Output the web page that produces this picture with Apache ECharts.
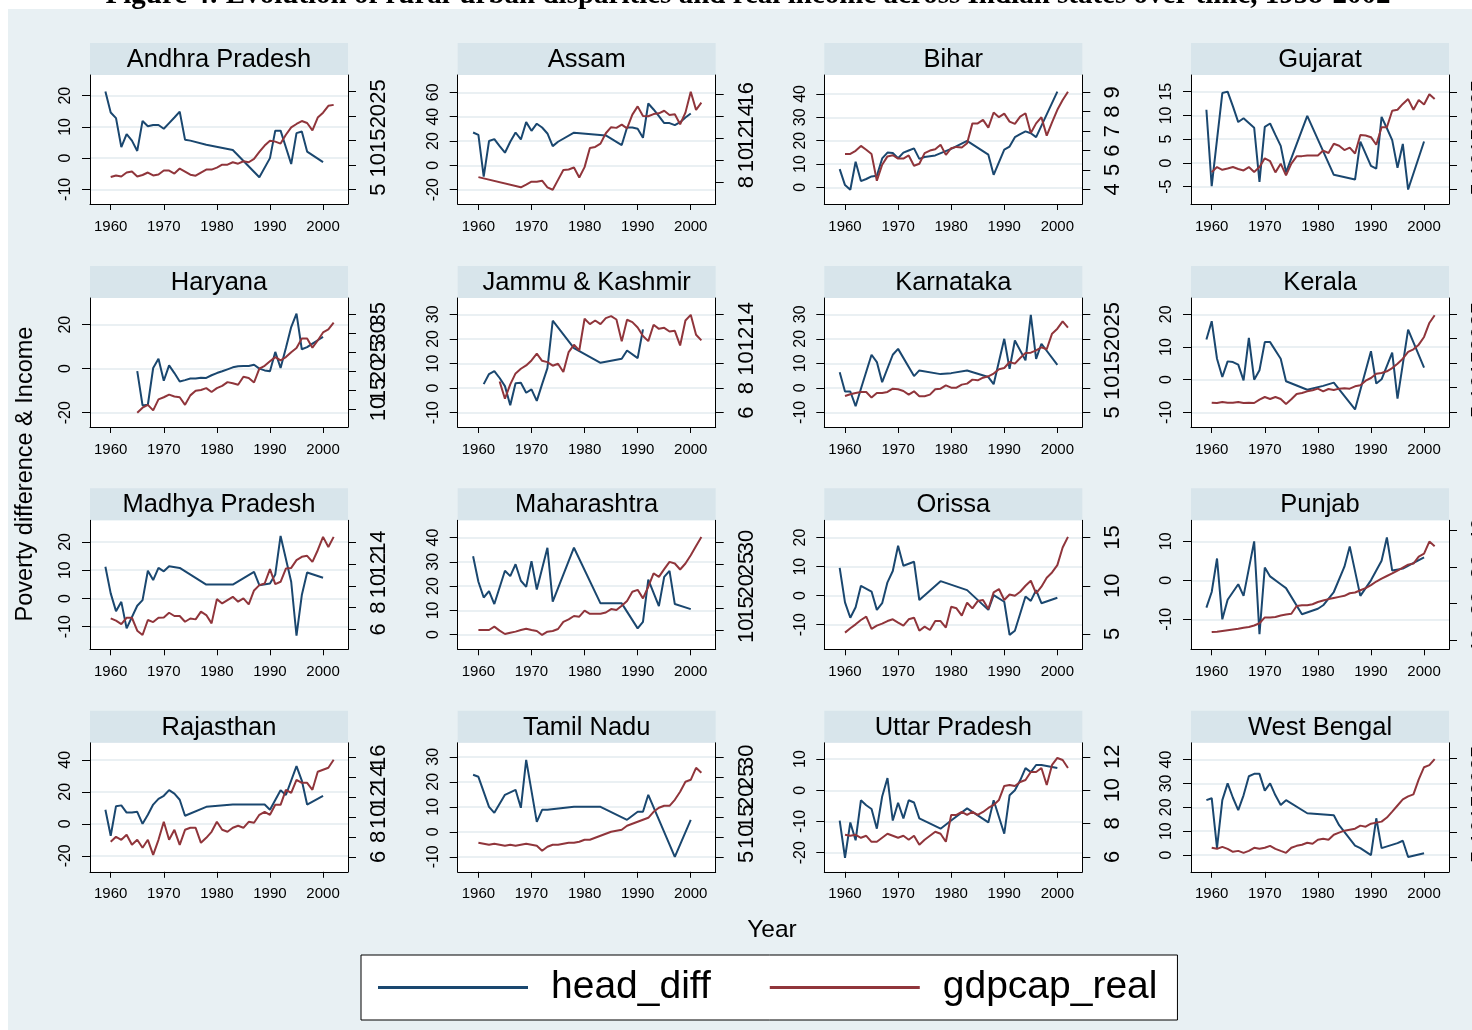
<!DOCTYPE html>
<html>
<head>
<meta charset="utf-8">
<script src="https://cdn.jsdelivr.net/npm/echarts@6/dist/echarts.min.js"></script>
<style>
  html, body { margin: 0; padding: 0; background: #fff; }
  #chart { width: 1472px; height: 1030px; }
</style>
</head>
<body>
<div id="chart"></div>
<script>
// Years covered by every series (1959-2002); null = no observation that year.
const years = [1959,
  1960,1961,1962,1963,1964,1965,1966,1967,1968,1969,
  1970,1971,1972,1973,1974,1975,1976,1977,1978,1979,
  1980,1981,1982,1983,1984,1985,1986,1987,1988,1989,
  1990,1991,1992,1993,1994,1995,1996,1997,1998,1999,
  2000,2001,2002];
const yearTicks = [1960, 1970, 1980, 1990, 2000];

// ---- Andhra Pradesh
const apHead = [21.3,
  14.6,12.8,3.5,7.7,5.6,2.3,11.9,10.2,10.6,10.6,
  9.4,11.2,13.0,14.9,5.9,5.6,null,null,4.3,null,
  null,null,null,2.6,null,null,null,null,-6.1,null,
  0.0,8.8,8.8,null,-1.9,8.0,8.5,2.1,null,null,
  -1.3,null,null];
const apGdp = [null,
  7.58,7.9,7.7,8.5,8.7,7.7,8.0,8.5,7.9,8.1,
  8.9,8.9,8.3,9.3,8.7,8.05,7.85,8.5,9.1,9.1,
  9.5,10.1,10.1,10.6,10.3,10.8,10.6,11.3,12.7,14.0,
  15.0,14.8,14.4,16.2,17.7,18.4,19.0,18.6,17.1,19.7,
  20.7,22.1,22.3];
const apLeftTicks = [-10, 0, 10, 20];
const apRightTicks = [5, 10, 15, 20, 25];

// ---- Assam
const asHead = [27,
  25.1,-9.3,20,21.6,15.8,10.4,19.4,27,21.3,35.5,
  28.4,34.2,31.1,26.2,15.8,19.4,null,null,26.8,null,
  null,null,null,null,24.6,null,null,16.7,31.1,31.1,
  30,22.7,50.8,45.9,40.4,34.7,34.7,33,35.5,39.3,
  42.6,null,null];
const asGdp = [null,
  8.45,null,null,null,null,null,null,null,7.52,7.76,
  8.03,8.03,8.12,7.52,7.3,8.2,9.1,9.15,9.33,8.42,
  9.36,11.1,11.2,11.5,12.45,13.0,12.94,13.24,12.9,14.15,
  14.9,14.03,14.0,14.2,14.27,14.5,14.12,14.18,13.27,14.33,
  16.24,14.58,15.24];
const asLeftTicks = [-20, 0, 20, 40, 60];
const asRightTicks = [8, 10, 12, 14, 16];

// ---- Bihar
const biHead = [7.8,
  1.0,-1.0,11,2.7,3.6,4.7,5.0,12.4,14.9,14.7,
  12.5,14.9,15.8,16.7,12.2,13,null,13.7,null,null,
  16.5,null,null,19.9,null,null,null,14,5.4,null,
  16.2,17.5,21.5,22.8,24,23.2,21.5,null,null,null,
  41,null,null];
const biGdp = [null,
  5.83,5.83,5.99,6.24,6.04,5.82,4.45,5.27,5.7,5.76,
  5.59,5.59,5.75,5.22,5.32,5.87,6.0,6.07,6.3,5.78,
  6.12,6.19,6.16,6.38,7.4,7.4,7.58,7.18,7.96,7.72,
  7.9,7.49,7.37,7.75,7.92,6.9,7.4,7.72,6.77,7.45,
  8.1,8.6,9.03];
const biLeftTicks = [0, 10, 20, 30, 40];
const biRightTicks = [4, 5, 6, 7, 8, 9];

// ---- Gujarat
const guHead = [11.2,
  -4.9,null,14.7,15,11.9,8.6,9.4,8.4,7.4,-4,
  7.6,8.3,5.9,3.6,-2,null,null,null,9.9,null,
  null,null,null,-2.5,null,null,null,-3.5,4.5,null,
  -0.6,-1.2,9.7,7.3,4.8,-1,4,-5.6,null,null,
  4.5,null,null];
const guGdp = [null,
  8.56,9.6,9.04,9.3,9.6,9.2,8.9,9.6,8.6,9.6,
  11.4,10.8,8.5,10.3,7.9,10.3,11.8,11.85,12,12,
  12,13,12.5,14.4,14,13.1,13.6,12.4,16.2,16.1,
  15.75,14.2,17.8,17.8,21.2,21.4,22.6,23.6,21.4,23.4,
  22.5,24.6,23.6];
const guLeftTicks = [-5, 0, 5, 10, 15];
const guRightTicks = [5, 10, 15, 20, 25];

// ---- Haryana
const hrHead = [null,
  null,null,null,null,null,-1.1,-16.7,-16.4,0.3,4.5,
  -5.5,1.5,-2,-5.8,-5.2,-4.5,-4.5,-4.1,-4.2,-3,
  -2,-1.2,-0.3,0.6,1.1,1.2,1.2,1.8,0,-0.8,
  -1.2,7.6,0.3,9.4,18.9,25,8.8,9.8,11.4,12.9,
  14.4,null,null];
const hrGdp = [null,
  null,null,null,null,null,9.03,10.35,11.1,9.65,12.55,
  13.1,13.8,13.3,13.1,11.1,13.6,14.8,15,15.5,14.5,
  15.5,16.1,17.1,16.8,16.4,18.5,18.2,17,20.65,21.4,
  22.6,23.7,22.85,23.7,25,26.1,28.6,28.6,26.2,28.1,
  30.2,31,32.8];
const hrLeftTicks = [-20, 0, 20];
const hrRightTicks = [10, 15, 20, 25, 30, 35];

// ---- Jammu & Kashmir
const jkHead = [null,
  null,1.6,5.7,6.9,4.1,0.8,-7,2,2.2,-1.9,
  -0.5,-5.2,1.6,8.1,27.4,null,null,null,16.3,null,
  null,null,null,10.3,null,null,null,11.9,15.3,null,
  12.2,23.9,null,null,null,null,null,null,null,null,
  null,null,null];
const jkGdp = [null,
  null,null,null,null,8.54,7.13,8.3,9.19,9.57,9.84,
  10.25,10.8,10.22,10.11,9.82,9.98,9.3,10.93,11.52,11.06,
  13.64,13.2,13.5,13.2,13.69,13.85,13.58,11.8,13.56,13.37,
  12.93,12.23,11.82,13.15,12.82,12.9,12.6,12.66,11.47,13.5,
  13.96,12.34,11.88];
const jkLeftTicks = [-10, 0, 10, 20, 30];
const jkRightTicks = [6, 8, 10, 12, 14];

// ---- Karnataka
const kaHead = [6.4,
  -1.5,-1.5,-7.5,-0.4,null,13.5,10.5,2.3,null,13.5,
  15.9,null,null,4.8,7.1,null,null,null,5.6,null,
  6,null,null,7.1,null,null,null,4.4,1.5,null,
  20,7.8,19.3,null,11.2,29.8,11.8,18,null,null,
  9.4,null,null];
const kaGdp = [null,
  8.33,8.67,8.95,9.15,9.15,8.0,8.95,8.95,9.15,9.83,
  9.69,9.35,8.6,9.29,8.27,8.27,8.6,9.69,9.83,10.5,
  10.03,10.03,10.65,10.85,11.67,11.53,12.07,12.35,12.9,13.78,
  14.05,15.27,14.93,16.09,17.1,17.18,17.65,18.27,17.86,21.05,
  22.07,23.57,22.28];
const kaLeftTicks = [-10, 0, 10, 20, 30];
const kaRightTicks = [5, 10, 15, 20, 25];

// ---- Kerala
const keHead = [12.3,
  17.9,6.4,0.8,5.6,5.4,4.6,-0.2,12.8,0,2.9,
  11.5,11.5,null,6.4,-0.5,null,null,null,-3.1,null,
  null,-1.9,null,-0.9,null,null,null,-9.1,null,null,
  8.7,-1.2,0.1,null,8.3,-5.8,null,15.3,null,null,
  3.7,null,null];
const keGdp = [null,
  6.91,6.84,7.05,6.91,6.91,7.05,6.84,6.91,6.84,7.53,
  8.07,7.66,8.07,7.66,6.64,7.6,8.69,8.89,9.23,9.44,
  9.78,9.23,9.71,9.5,9.78,9.85,9.78,10.26,10.46,11.42,
  11.96,12.85,12.99,13.33,14.0,14.9,15.92,17.29,17.83,18.79,
  20.36,23.23,24.8];
const keLeftTicks = [-10, 0, 10, 20];
const keRightTicks = [5, 10, 15, 20, 25];

// ---- Madhya Pradesh
const mpHead = [11.2,
  1.8,-4.5,-1.2,-10.6,null,-2.6,-0.6,9.8,6.5,10.8,
  9.6,11.4,null,10.8,null,null,null,null,4.9,null,
  null,null,null,4.9,null,null,null,9.4,4.7,null,
  5.3,8.5,22.1,null,5.9,-13.2,1.2,9.2,null,null,
  7.3,null,null];
const mpGdp = [null,
  7.01,6.8,6.49,7.07,7.07,5.88,5.48,6.86,6.67,7.07,
  7.1,7.53,7.23,7.23,6.7,7.0,6.92,7.63,7.32,6.55,
  8.79,8.39,8.7,9.0,8.55,8.85,8.3,9.59,10.08,10.23,
  11.55,10.17,10.39,11.61,11.67,12.38,12.69,12.78,12.23,13.3,
  14.53,13.6,14.53];
const mpLeftTicks = [-10, 0, 10, 20];
const mpRightTicks = [6, 8, 10, 12, 14];

// ---- Maharashtra
const mhHead = [32.3,
  21.8,15.3,17.9,12.6,null,26.3,24.1,29,22.2,19.7,
  30.3,18.6,null,35.8,13.6,null,null,null,35.8,null,
  null,null,null,12.9,null,null,null,12.9,null,null,
  2.6,5.3,22.7,null,11.8,23.8,26.3,12.6,null,null,
  10.5,null,null];
const mhGdp = [null,
  10.15,10.15,10.15,10.9,10.0,9.25,9.55,9.78,10.15,10.45,
  10.15,9.93,9.03,9.78,9.93,10.37,12.0,12.55,13.3,13.15,
  14.5,13.8,13.8,13.8,14.1,14.87,14.64,15.6,16.67,18.76,
  19.2,17.27,19.9,22.9,22.13,23.86,25.5,25.13,23.78,25.13,
  27.0,29.1,31.12];
const mhLeftTicks = [0, 10, 20, 30, 40];
const mhRightTicks = [10, 15, 20, 25, 30];

// ---- Orissa
const orHead = [9.6,
  -2.3,-7.6,-4,3.4,null,1.4,-4.9,-2.6,4.6,8.5,
  17.2,10.3,null,11.7,-1.5,null,null,null,5.0,null,
  null,null,null,1.9,null,null,null,-4.9,0.2,null,
  -2.1,-13.5,-12.1,null,-0.3,-1.8,1.9,-2.6,null,null,
  -0.7,null,null];
const orGdp = [null,
  5.14,5.59,6.0,6.45,6.79,5.52,5.86,6.07,6.34,6.52,
  6.17,5.86,6.52,6.69,5.34,5.76,5.41,6.34,6.34,5.66,
  7.83,7.66,6.9,8.24,7.66,8.41,8.52,7.59,9.31,9.66,
  8.52,9.1,8.97,9.38,10.0,10.52,9.21,9.9,10.83,11.38,
  12.14,13.97,15.07];
const orLeftTicks = [-10, 0, 10, 20];
const orRightTicks = [5, 10, 15];

// ---- Punjab
const pbHead = [-7,
  -3,5.6,-10,-5,-3,-1,-4,null,10,-13.8,
  3.3,1,null,-1,-2,null,null,-8.7,null,null,
  -7.3,-6.4,null,-3,null,3.5,8.7,null,-4,null,
  0,null,5,11,2.5,null,3,null,null,null,
  5.9,null,null];
const pbGdp = [null,
  12.2,12.3,12.5,12.7,12.9,13.1,13.4,13.6,14.0,14.6,
  16.2,16.2,16.3,16.7,17.0,17.2,19.3,19.5,19.5,19.8,
  20.4,20.8,21.2,21.5,21.8,22.1,22.8,23.0,23.6,24.2,
  25.0,26.0,26.8,27.5,28.2,29.0,29.8,30.6,30.9,32.8,
  33.6,36.9,35.6];
const pbLeftTicks = [-10, 0, 10];
const pbRightTicks = [10, 20, 30, 40];

// ---- Rajasthan
const rjHead = [8.75,
  -7.5,11,11.5,7,7,7.5,0,5.6,12,15.6,
  17.5,21,18.8,15,5,null,null,null,10.6,null,
  null,null,null,12,null,null,null,null,12,12,
  8.8,null,21,18,null,36,27,12,null,null,
  17.5,null,null];
const rjGdp = [null,
  7.5,8,7.7,8.2,7.2,7.7,6.9,7.7,6.2,7.7,
  9.5,7.7,8.7,7.2,8.7,8.9,8.9,7.4,7.9,8.5,
  9.5,8.7,8.5,8.9,9.1,8.9,9.5,9.4,10.2,10.5,
  10.2,11.2,11.2,12.7,12.4,13.7,13.4,13.4,12.7,14.5,
  14.7,14.9,15.7];
const rjLeftTicks = [-20, 0, 20, 40];
const rjRightTicks = [6, 8, 10, 12, 14, 16];

// ---- Tamil Nadu
const tnHead = [22.8,
  22,null,10,7.6,null,14.8,null,16.8,9.6,28.8,
  null,4,8.8,8.8,null,null,null,null,10,null,
  null,null,null,10,null,null,null,null,4.8,null,
  8,8,14.8,null,null,null,null,-10,null,null,
  4.8,null,null];
const tnGdp = [null,
  8.5,8.25,8.0,8.25,8.0,7.75,8.0,7.75,8.0,8.25,
  8.0,7.75,6.5,7.5,8.0,8.0,8.25,8.5,8.5,8.75,
  9.25,9.25,9.75,10.25,10.75,11.25,11.5,11.75,12.75,13.25,
  13.75,14.25,14.75,16.25,17.25,17.75,17.75,19.25,21.25,23.75,
  24.25,27.25,26.0];
const tnLeftTicks = [-10, 0, 10, 20, 30];
const tnRightTicks = [5, 10, 15, 20, 25, 30];

// ---- Uttar Pradesh
const upHead = [-9.7,
  -21.6,-10.3,-16,-3.2,-4.8,-6,-12.3,-2,3.9,-9.7,
  -4,-9,-3.2,-3.9,-9,null,null,null,-12.3,null,
  -9.7,null,null,-5.8,null,null,null,-10.3,-3.2,null,
  -13.9,-1.6,0,3.2,7.1,5.8,8.1,8.1,null,null,
  7.1,null,null];
const upGdp = [null,
  7.32,7.26,7.32,7.14,7.26,6.9,6.9,7.14,7.38,7.26,
  7.14,7.26,7.02,7.26,6.72,7.02,7.26,7.5,7.38,6.9,
  8.51,8.51,8.69,8.51,8.69,8.51,8.69,8.93,9.11,9.41,
  10.25,10.31,10.25,10.49,10.61,11.09,11.09,11.33,10.31,11.51,
  11.93,11.81,11.33];
const upLeftTicks = [-20, -10, 0, 10];
const upRightTicks = [6, 8, 10, 12];

// ---- West Bengal
const wbHead = [23,
  23.8,3,23,30,24,18.8,25,33,34,34,
  27,30,25,21,23,null,null,null,17.5,null,
  null,null,null,16.7,12.5,null,null,4,2.9,null,
  0,15.4,2.9,null,null,5,6,-0.8,null,null,
  0.8,null,null];
const wbGdp = [null,
  6.84,6.63,7.04,6.63,6.02,6.22,5.82,6.22,6.84,6.63,
  6.84,7.24,6.63,6.22,5.82,6.84,7.24,7.45,7.86,7.65,
  8.47,8.67,8.47,9.49,9.9,10.31,10.51,10.71,11.33,11.12,
  11.73,11.94,12.14,12.96,14.18,15.41,16.63,17.24,17.65,20.71,
  23.16,23.57,24.8];
const wbLeftTicks = [0, 10, 20, 30, 40];
const wbRightTicks = [5, 10, 15, 20, 25];

// Panel list: name, series and each axis' visible range
const panels = [
  { name: 'Andhra Pradesh', head: apHead, gdp: apGdp, lt: apLeftTicks, rt: apRightTicks, l: [-14.68, 26.6], r: [2.08, 28.39] },
  { name: 'Assam', head: asHead, gdp: asGdp, lt: asLeftTicks, rt: asRightTicks, l: [-31.7, 74.2], r: [6.0, 17.76] },
  { name: 'Bihar', head: biHead, gdp: biGdp, lt: biLeftTicks, rt: biRightTicks, l: [-7.1, 48.1], r: [3.25, 9.89] },
  { name: 'Gujarat', head: guHead, gdp: guGdp, lt: guLeftTicks, rt: guRightTicks, l: [-8.64, 18.5], r: [1.99, 28.56] },
  { name: 'Haryana', head: hrHead, gdp: hrGdp, lt: hrLeftTicks, rt: hrRightTicks, l: [-26.5, 32.1], r: [5.25, 39.3] },
  { name: 'Jammu & Kashmir', head: jkHead, gdp: jkGdp, lt: jkLeftTicks, rt: jkRightTicks, l: [-15.83, 36.65], r: [4.83, 15.33] },
  { name: 'Karnataka', head: kaHead, gdp: kaGdp, lt: kaLeftTicks, rt: kaRightTicks, l: [-15.99, 36.67], r: [2.0, 28.33] },
  { name: 'Kerala', head: keHead, gdp: keGdp, lt: keLeftTicks, rt: keRightTicks, l: [-14.49, 25.0], r: [1.93, 28.34] },
  { name: 'Madhya Pradesh', head: mpHead, gdp: mpGdp, lt: mpLeftTicks, rt: mpRightTicks, l: [-18.0, 27.65], r: [4.16, 16.06] },
  { name: 'Maharashtra', head: mhHead, gdp: mhGdp, lt: mhLeftTicks, rt: mhRightTicks, l: [-6.03, 47.1], r: [5.8, 34.87] },
  { name: 'Orissa', head: orHead, gdp: orGdp, lt: orLeftTicks, rt: orRightTicks, l: [-18.48, 25.96], r: [3.41, 16.79] },
  { name: 'Punjab', head: pbHead, gdp: pbGdp, lt: pbLeftTicks, rt: pbRightTicks, l: [-17.7, 15.4], r: [7.5, 42.7] },
  { name: 'Rajasthan', head: rjHead, gdp: rjGdp, lt: rjLeftTicks, rt: rjRightTicks, l: [-30, 50.6], r: [4.5, 17.4] },
  { name: 'Tamil Nadu', head: tnHead, gdp: tnGdp, lt: tnLeftTicks, rt: tnRightTicks, l: [-16, 35.6], r: [1.25, 33.5] },
  { name: 'Uttar Pradesh', head: upHead, gdp: upGdp, lt: upLeftTicks, rt: upRightTicks, l: [-26.1, 15.2], r: [5.1, 12.84] },
  { name: 'West Bengal', head: wbHead, gdp: wbGdp, lt: wbLeftTicks, rt: wbRightTicks, l: [-7, 47], r: [1.98, 28.1] }
];

// Layout of the 4 x 4 panel matrix (plot regions, in px)
const COL_LEFT = [90, 457.7, 824.3, 1191];
const ROW_TOP = [75, 298, 520.3, 742.8];
const PW = 258, PH = 129, STRIP_H = 32;
const X_MIN = 1956.1, X_MAX = 2004.7;

const NAVY = '#1a476f';
const MAROON = '#90353b';
const BG = '#e8f0f3';
const STRIP = '#d8e5eb';
const GRIDLINE = '#e3ebef';
const FONT = '"Liberation Sans", Arial, Helvetica, sans-serif';

function pairs(vals) {
  return years.map((y, k) => [y, vals[k]]).filter(d => d[1] !== null && d[1] !== undefined);
}
const plain = v => String(v);

const grids = [], xAxes = [], yAxes = [], series = [];
const graphics = [
  { type: 'rect', shape: { x: 0, y: 0, width: 1472, height: 9 }, style: { fill: '#fff' }, silent: true },
  { type: 'rect', shape: { x: 0, y: 0, width: 8, height: 1030 }, style: { fill: '#fff' }, silent: true },
  { type: 'text', x: 748, y: -4, silent: true,
    style: { text: 'Figure 4: Evolution of rural-urban disparities and real income across Indian states over time, 1958-2002',
      font: 'bold 29px "Liberation Serif", "Times New Roman", serif', fill: '#000',
      align: 'center', verticalAlign: 'middle', textAlign: 'center', textVerticalAlign: 'middle' } },
  { type: 'text', x: 772, y: 930, silent: true,
    style: { text: 'Year', font: '24.5px ' + FONT, fill: '#000',
      align: 'center', verticalAlign: 'middle', textAlign: 'center', textVerticalAlign: 'middle' } },
  { type: 'text', x: 26, y: 474, rotation: Math.PI / 2, silent: true,
    style: { text: 'Poverty difference & Income', font: '23.5px ' + FONT, fill: '#000',
      align: 'center', verticalAlign: 'middle', textAlign: 'center', textVerticalAlign: 'middle' } }
];

function yLabel(values, size, margin) {
  return { customValues: values, formatter: plain, rotate: 90, fontSize: size, margin: margin, color: '#000',
    fontFamily: FONT, hideOverlap: false, showMinLabel: true, showMaxLabel: true };
}

panels.forEach((p, i) => {
  const col = i % 4, row = Math.floor(i / 4);
  const left = COL_LEFT[col], top = ROW_TOP[row];
  grids.push({ left, top, width: PW, height: PH, show: true, backgroundColor: '#fff',
    borderWidth: 0, containLabel: false, outerBoundsMode: 'none' });

  xAxes.push({
    gridIndex: i, type: 'value', min: X_MIN, max: X_MAX,
    axisLine: { show: true, onZero: false, lineStyle: { color: '#000', width: 1 } },
    axisTick: { show: true, length: 6, customValues: yearTicks, lineStyle: { color: '#000' } },
    axisLabel: { customValues: yearTicks, formatter: plain, fontSize: 15, margin: 15, color: '#000',
      fontFamily: FONT, hideOverlap: false, showMinLabel: true, showMaxLabel: true },
    splitLine: { show: false }
  });

  // left axis: head_diff
  yAxes.push({
    gridIndex: i, type: 'value', position: 'left', min: p.l[0], max: p.l[1],
    axisLine: { show: true, onZero: false, lineStyle: { color: '#000', width: 1 } },
    axisTick: { show: true, length: 8, customValues: p.lt, lineStyle: { color: '#000' } },
    axisLabel: yLabel(p.lt, 16, 16),
    splitLine: { show: true, lineStyle: { color: GRIDLINE, width: 1.5 } }
  });
  // right axis: gdpcap_real; its labels are crowded, so they are split over two
  // coincident axes (every other label each) so that all of them get drawn
  const rtEven = p.rt.filter((v, k) => k % 2 === 0);
  const rtOdd = p.rt.filter((v, k) => k % 2 === 1);
  yAxes.push({
    gridIndex: i, type: 'value', position: 'right', min: p.r[0], max: p.r[1],
    axisLine: { show: true, onZero: false, lineStyle: { color: '#000', width: 1 } },
    axisTick: { show: true, length: 8, customValues: p.rt, lineStyle: { color: '#000' } },
    axisLabel: yLabel(rtEven, 22, 20),
    splitLine: { show: false }
  });
  yAxes.push({
    gridIndex: i, type: 'value', position: 'right', min: p.r[0], max: p.r[1],
    axisLine: { show: false, onZero: false },
    axisTick: { show: false, customValues: rtOdd },
    axisLabel: yLabel(rtOdd, 22, 20),
    splitLine: { show: false }
  });

  series.push({
    type: 'line', name: 'head_diff', xAxisIndex: i, yAxisIndex: 3 * i,
    data: pairs(p.head), symbol: 'none', showSymbol: false,
    lineStyle: { color: NAVY, width: 2 }, itemStyle: { color: NAVY }, silent: true
  });
  series.push({
    type: 'line', name: 'gdpcap_real', xAxisIndex: i, yAxisIndex: 3 * i + 1,
    data: pairs(p.gdp), symbol: 'none', showSymbol: false,
    lineStyle: { color: MAROON, width: 2 }, itemStyle: { color: MAROON }, silent: true
  });

  graphics.push({ type: 'rect', shape: { x: left, y: top - STRIP_H, width: PW, height: STRIP_H },
    style: { fill: STRIP }, silent: true });
  graphics.push({ type: 'text', x: left + PW / 2, y: top - STRIP_H / 2 + 1, silent: true,
    style: { text: p.name, font: '25.5px ' + FONT, fill: '#000',
      align: 'center', verticalAlign: 'middle', textAlign: 'center', textVerticalAlign: 'middle' } });
});

const chart = echarts.init(document.getElementById('chart'), null, { renderer: 'canvas' });
chart.setOption({
  animation: false,
  backgroundColor: BG,
  grid: grids,
  xAxis: xAxes,
  yAxis: yAxes,
  series: series,
  graphic: graphics,
  legend: {
    data: [
      { name: 'head_diff', icon: 'rect', itemStyle: { color: NAVY } },
      { name: 'gdpcap_real', icon: 'rect', itemStyle: { color: MAROON } }
    ],
    left: 361, top: 955,
    orient: 'horizontal',
    itemWidth: 150, itemHeight: 3, itemGap: 59,
    padding: [13, 20, 13, 17],
    backgroundColor: '#fff', borderColor: '#000', borderWidth: 1, borderRadius: 0,
    selectedMode: false,
    textStyle: { fontSize: 39, color: '#000', fontFamily: FONT, padding: [0, 0, 0, 18] }
  }
});
</script>
</body>
</html>
